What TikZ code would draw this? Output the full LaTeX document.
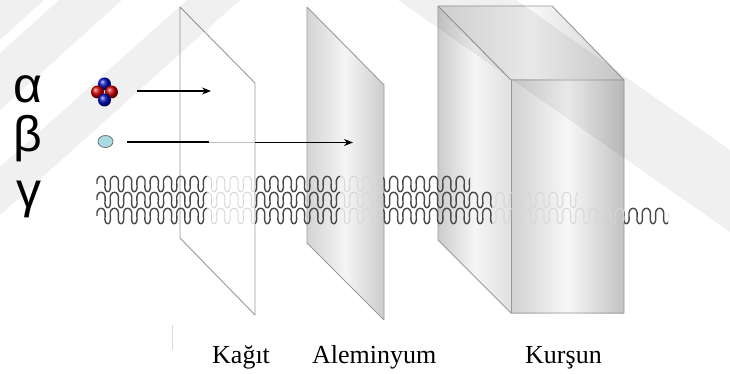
\documentclass[tikz,border=0pt]{standalone}
\usepackage{fontspec}
\setmainfont{Liberation Serif}
\newfontfamily\greekfont{Liberation Sans}
\usetikzlibrary{arrows.meta,shapes.geometric}

\definecolor{edgegray}{HTML}{9A9A9A}
\definecolor{wavedark}{HTML}{484848}
\definecolor{wavefaint}{HTML}{D6D6D6}
\definecolor{alphared}{HTML}{E00000}
\definecolor{alphablue}{HTML}{0010D0}
\definecolor{betacyan}{HTML}{A8DCE2}

\tikzset{
  sheet/.style={draw=edgegray, line width=0.9pt, line join=round},
  greek/.style={font=\greekfont\fontsize{50}{50}\selectfont, anchor=base, inner sep=0pt},
  label/.style={font=\fontsize{26}{26}\selectfont, anchor=base west, inner sep=0pt},
  ray/.style={line width=1.3pt, -{Stealth[length=9pt, width=7pt]}},
  nucleon/.style={circle, minimum size=13pt, inner sep=0pt, shading=ball},
  wavestrong/.style={wavedark, line width=1.4pt},
  waveweak/.style={wavefaint, line width=0.9pt},
  band/.style={fill=black, fill opacity=0.06},
}

% a gamma wave row at height #1, shown only between x=#2 and x=#3, drawn with style #4
% period 13.3: a wide rounded crest followed by a narrow curled trough
\newcommand\gammawave[4]{%
  \begin{scope}
    \clip (#2,#1-14) rectangle (#3,#1+14);
    \draw[#4] (97,#1)
      \foreach \k in {0,...,43} {
        .. controls ({97+13.3*\k-1.6},{#1-10.3}) and ({97+13.3*\k+8.1+1.6},{#1-10.3})
        .. ({97+13.3*\k+8.1},#1)
        .. controls ({97+13.3*\k+8.1-1.6},{#1+10.3}) and ({97+13.3*\k+13.3+1.6},{#1+10.3})
        .. ({97+13.3*\k+13.3},#1)
      };
  \end{scope}
}

\begin{document}
\begin{tikzpicture}[x=1pt, y=-1pt]
\useasboundingbox (0,0) rectangle (730,374);
\fill[white] (0,0) rectangle (730,374);

% ---- paper sheet ----
\path[sheet, fill=white, fill opacity=0.6]
  (180,7) coordinate (p1) -- (255,83) coordinate (p2)
  -- (255,315) coordinate (p3) -- (180,238) coordinate (p4) -- cycle;

% ---- aluminium sheet ----
\shade[left color=black!17, right color=black!20, middle color=black!4]
  (307,7) -- (384,85) -- (384,320) -- (307,243) -- cycle;
\draw[sheet] (307,7) coordinate (a1) -- (384,85) coordinate (a2)
  -- (384,320) coordinate (a3) -- (307,243) coordinate (a4) -- cycle;

% ---- lead block ----
\shade[left color=black!20, right color=black!12, middle color=black!4]
  (438,6) -- (511,80) -- (511,313) -- (438,240) -- cycle;
\shade[left color=black!14, right color=black!18, middle color=black!3]
  (438,6) -- (552,6) -- (624,80) -- (511,80) -- cycle;
\shade[left color=black!18, right color=black!24, middle color=black!3]
  (511,80) rectangle (624,313);
\draw[sheet, draw=black!40]
  (438,6) coordinate (b1) -- (552,6) coordinate (b2) -- (624,80) coordinate (b3)
  -- (624,313) coordinate (b4) -- (511,313) coordinate (b5)
  -- (438,240) coordinate (b6) -- cycle;
\draw[sheet, draw=black!40] (438,6) -- (511,80) coordinate (b7) -- (624,80);
\draw[sheet, draw=black!40] (511,80) -- (511,313);

% ---- gamma rays ----
% stretches inside the sheets and the block
\gammawave{184}{207}{255}{waveweak}
\gammawave{200}{207}{255}{waveweak}
\gammawave{216}{207}{255}{waveweak}
\gammawave{184}{340}{383}{waveweak}
\gammawave{200}{340}{383}{waveweak}
\gammawave{216}{340}{383}{waveweak}
\gammawave{200}{492}{578}{waveweak}
\gammawave{216}{492}{624}{waveweak}
% stretches in the open
\gammawave{184}{96}{207}{wavestrong}
\gammawave{200}{96}{207}{wavestrong}
\gammawave{216}{96}{207}{wavestrong}
\gammawave{184}{255}{340}{wavestrong}
\gammawave{200}{255}{340}{wavestrong}
\gammawave{216}{255}{340}{wavestrong}
\gammawave{184}{383}{470}{wavestrong}
\gammawave{200}{383}{492}{wavestrong}
\gammawave{216}{383}{492}{wavestrong}
\gammawave{216}{624}{668}{wavestrong}

% ---- particles ----
\node[nucleon, ball color=alphablue] (nb1) at (104.5,84) {};
\node[nucleon, ball color=alphared] (nr1) at (97.5,92) {};
\node[nucleon, ball color=alphared] (nr2) at (111.5,92) {};
\node[nucleon, ball color=alphablue] (nb2) at (104.5,100) {};
\node[draw=black!55, fill=betacyan, ellipse, minimum width=15pt, minimum height=12pt,
      inner sep=0pt, line width=0.8pt] (beta) at (105.5,141.5) {};

\coordinate (alphaStart) at (137,91);
\coordinate (alphaStop) at (211,91);
\draw[ray] (alphaStart) -- (alphaStop);

\coordinate (betaStart) at (127,142.5);
\coordinate (betaIn) at (209,142.5);
\coordinate (betaOut) at (255,142.5);
\coordinate (betaStop) at (353,142.5);
\draw[line width=2pt] (betaStart) -- (betaIn);
\draw[black!25, line width=0.8pt] (betaIn) -- (betaOut);
\draw[ray] (betaOut) -- (betaStop);

% ---- symbols ----
\node[greek] (lalpha) at (28,103) {α};
\node[greek] (lbeta) at (28,152) {β};
\node[greek] (lgamma) at (29,207) {γ};

% ---- material names ----
\draw[black!15, line width=1pt] (172,325) -- (172,350);
\node[label] (kagit) at (212,363) {Kağıt};
\node[label] (alu) at (312,363) {Aleminyum};
\node[label] (lead) at (525,363) {Kurşun};

% ---- faint diagonal stripes laid over the page ----
\fill[band] (0,0) -- (44,0) -- (0,40) -- cycle;
\fill[band] (59,0) -- (122,0) -- (0,110) -- (0,53) -- cycle;
\fill[band] (187,0) -- (240,0) -- (0,215) -- (0,167) -- cycle;
\fill[band] (398,0) -- (516,0) -- (730,150) -- (730,232) -- cycle;
\end{tikzpicture}
\end{document}
